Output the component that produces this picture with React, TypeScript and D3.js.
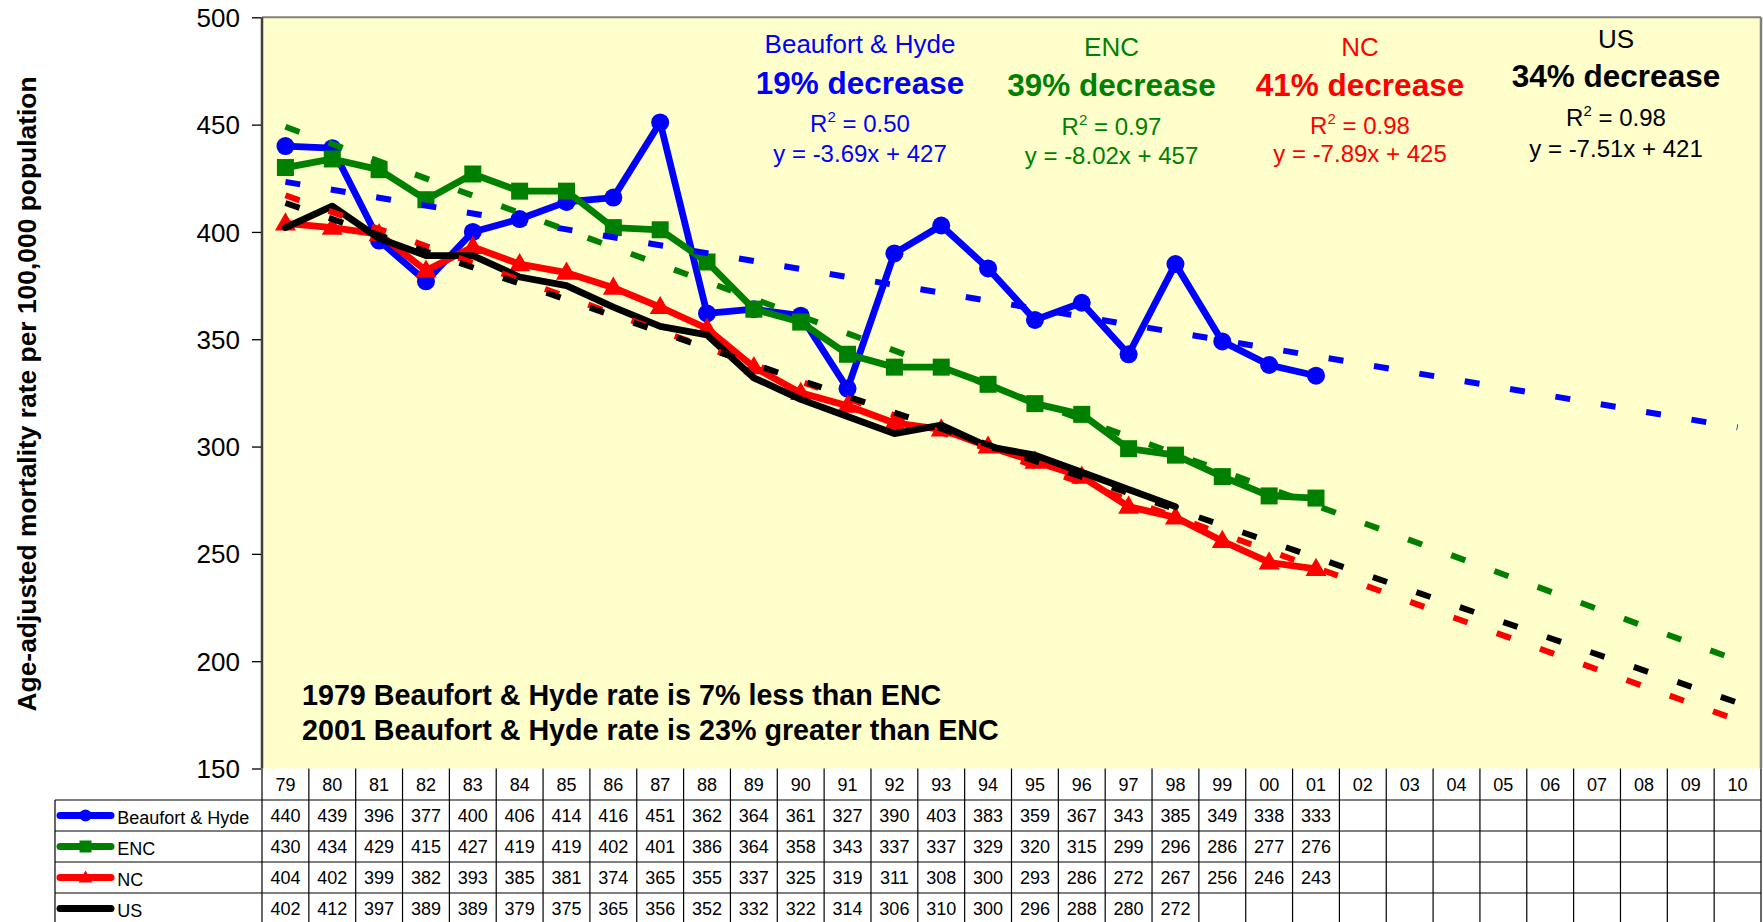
import React, { useRef, useEffect } from "react";
import * as d3 from "d3";

// years 1979..2010 (table header / x categories)
const years = [
  "79", "80", "81", "82", "83", "84", "85", "86", "87", "88", "89", "90", "91", "92", "93", "94",
  "95", "96", "97", "98", "99", "00", "01", "02", "03", "04", "05", "06", "07", "08", "09", "10",
];

const beaufortHyde = [440, 439, 396, 377, 400, 406, 414, 416, 451, 362, 364, 361, 327, 390, 403, 383, 359, 367, 343, 385, 349, 338, 333];
const enc = [430, 434, 429, 415, 427, 419, 419, 402, 401, 386, 364, 358, 343, 337, 337, 329, 320, 315, 299, 296, 286, 277, 276];
const nc = [404, 402, 399, 382, 393, 385, 381, 374, 365, 355, 337, 325, 319, 311, 308, 300, 293, 286, 272, 267, 256, 246, 243];
const us = [402, 412, 397, 389, 389, 379, 375, 365, 356, 352, 332, 322, 314, 306, 310, 300, 296, 288, 280, 272];

const seriesNames = ["Beaufort & Hyde", "ENC", "NC", "US"];
const seriesValues = [beaufortHyde, enc, nc, us];
const seriesColors = ["#0000ff", "#008000", "#ff0000", "#000000"];
const seriesMarkers = ["circle", "square", "triangle", "none"];

// linear trend lines as labelled on the chart (x = 1 for 1979)
const trendSlopes = [-3.69, -8.02, -7.89, -7.51];
const trendIntercepts = [427, 457, 425, 421];
const trendR2 = ["0.50", "0.97", "0.98", "0.98"];
const trendDecrease = ["19%", "39%", "41%", "34%"];

const yTicks = [150, 200, 250, 300, 350, 400, 450, 500];

const notes = [
  "1979 Beaufort & Hyde rate is 7% less than ENC",
  "2001 Beaufort & Hyde rate is 23% greater than ENC",
];

const FONT = "'Liberation Sans', Arial, Helvetica, sans-serif";
const W = 1763;
const H = 922;
const plotLeft = 262;
const plotRight = 1761;
const plotTop = 17.3;
const plotBottom = 768.5;
const tableLeft = 55;
const rowLines = [800, 831, 862, 893];

// annotation block layout: centre x and baselines of its 4 lines
const labelLayout = [
  { cx: 860, ys: [53.3, 94, 131.7, 161.7] },
  { cx: 1111.5, ys: [56, 95.5, 134.5, 163.5] },
  { cx: 1360, ys: [56, 96, 133.5, 162.3] },
  { cx: 1616, ys: [48.3, 86.7, 126, 156.7] },
];

const Marker: React.FC<{ kind: string; x: number; y: number; color: string; s: number }> = ({ kind, x, y, color, s }) => {
  if (kind === "circle") return <circle cx={x} cy={y} r={s / 2} fill={color} />;
  if (kind === "square") return <rect x={x - s / 2} y={y - s / 2} width={s} height={s} fill={color} />;
  if (kind === "triangle") {
    const p = d3.symbol().type(d3.symbolTriangle).size((Math.sqrt(3) / 4) * s * s)();
    return <path d={p as string} transform={`translate(${x},${y + 1})`} fill={color} />;
  }
  return null;
};

const App: React.FC = () => {
  const axisRef = useRef<SVGGElement | null>(null);

  const x = d3.scaleBand<string>().domain(years).range([plotLeft, plotRight]);
  const cx = (i: number) => (x(years[i]) as number) + x.bandwidth() / 2;
  const y = d3.scaleLinear().domain([150, 500]).range([plotBottom, plotTop]);

  useEffect(() => {
    const g = d3.select(axisRef.current);
    g.selectAll("*").remove();
    g.call(d3.axisLeft(y).tickValues(yTicks).tickSize(9).tickPadding(12).tickFormat(d3.format("d")) as any);
    g.select(".domain").remove();
    g.selectAll(".tick line").attr("stroke", "#000").attr("stroke-width", 1.3);
    g.selectAll(".tick text")
      .attr("font-family", FONT)
      .attr("font-size", 26)
      .attr("fill", "#000")
      .attr("dy", "0.35em");
  }, []);

  const line = d3
    .line<number>()
    .x((_, i) => cx(i))
    .y((d) => y(d));

  const colW = x.bandwidth();

  return (
    <svg width={W} height={H} style={{ position: "absolute", left: 0, top: 0, background: "#fff" }} fontFamily={FONT}>
      {/* plot area */}
      <rect x={plotLeft} y={plotTop} width={plotRight - plotLeft} height={plotBottom - plotTop} fill="#ffffcc" />
      <line x1={plotLeft} x2={plotRight} y1={plotTop} y2={plotTop} stroke="#808080" strokeWidth={2} />
      <line x1={plotRight} x2={plotRight} y1={plotTop} y2={plotBottom} stroke="#808080" strokeWidth={2.5} />

      {/* series */}
      {seriesValues.map((vals, si) => (
        <g key={seriesNames[si]}>
          <path d={line(vals) as string} fill="none" stroke={seriesColors[si]} strokeWidth={6.8} strokeLinejoin="round" strokeLinecap="round" />
          {vals.map((v, i) => (
            <Marker
              key={i}
              kind={seriesMarkers[si]}
              x={cx(i)}
              y={y(v)}
              color={seriesColors[si]}
              s={seriesMarkers[si] === "circle" ? 18 : seriesMarkers[si] === "square" ? 17 : 21}
            />
          ))}
        </g>
      ))}

      {/* trend lines */}
      {trendSlopes.map((m, si) => {
        const ends = [0, years.length - 1];
        const tl = d3
          .line<number>()
          .x((i) => cx(i))
          .y((i) => y(m * (i + 1) + trendIntercepts[si]));
        return (
          <path key={si} d={tl(ends) as string} fill="none" stroke={seriesColors[si]} strokeWidth={6} strokeDasharray="15 31" />
        );
      })}

      {/* y axis */}
      <line x1={plotLeft} x2={plotLeft} y1={plotTop} y2={plotBottom} stroke="#404040" strokeWidth={2.5} />
      <g ref={axisRef} transform={`translate(${plotLeft - 1},0)`} />

      <text transform={`translate(36,394) rotate(-90)`} textAnchor="middle" fontSize={26.4} fontWeight="bold" fill="#000">
        Age-adjusted mortality rate per 100,000 population
      </text>

      {/* trend annotations */}
      {seriesNames.map((name, si) => {
        const L = labelLayout[si];
        const c = seriesColors[si];
        return (
          <g key={name} fill={c} textAnchor="middle">
            <text x={L.cx} y={L.ys[0]} fontSize={26}>{name}</text>
            <text x={L.cx} y={L.ys[1]} fontSize={31.5} fontWeight="bold">{trendDecrease[si]} decrease</text>
            <text x={L.cx} y={L.ys[2]} fontSize={24}>
              R<tspan fontSize={15} dy={-10}>2</tspan>
              <tspan dy={10}> = {trendR2[si]}</tspan>
            </text>
            <text x={L.cx} y={L.ys[3]} fontSize={24}>
              y = {trendSlopes[si].toFixed(2)}x + {trendIntercepts[si]}
            </text>
          </g>
        );
      })}

      {/* notes */}
      {notes.map((n, i) => (
        <text key={i} x={302} y={705 + i * 34.5} fontSize={28.7} fontWeight="bold" fill="#000">
          {n}
        </text>
      ))}

      {/* data table */}
      <g stroke="#000" strokeWidth={1.2}>
        <line x1={plotLeft} x2={plotLeft} y1={plotBottom} y2={H} />
        {years.map((yr) => (
          <line key={yr} x1={(x(yr) as number) + colW} x2={(x(yr) as number) + colW} y1={plotBottom} y2={H} />
        ))}
        <line x1={tableLeft} x2={tableLeft} y1={rowLines[0]} y2={H} />
        {rowLines.map((ry) => (
          <line key={ry} x1={tableLeft} x2={plotRight} y1={ry} y2={ry} />
        ))}
      </g>
      <g fontSize={18} textAnchor="middle" fill="#000">
        {years.map((yr, i) => (
          <text key={yr} x={cx(i)} y={790.7}>{yr}</text>
        ))}
        {seriesValues.map((vals, si) =>
          vals.map((v, i) => (
            <text key={`${si}-${i}`} x={cx(i)} y={rowLines[si] + 22.3}>{v}</text>
          ))
        )}
      </g>
      {/* legend keys */}
      {seriesNames.map((name, si) => {
        const ry = rowLines[si] + 15.5;
        return (
          <g key={name}>
            <line x1={60} x2={111} y1={ry} y2={ry} stroke={seriesColors[si]} strokeWidth={7} strokeLinecap="round" />
            <Marker kind={seriesMarkers[si]} x={85.5} y={ry} color={seriesColors[si]} s={seriesMarkers[si] === "triangle" ? 14 : 12} />
            <text x={117.3} y={ry + 8.5} fontSize={18} fill="#000">{name}</text>
          </g>
        );
      })}
    </svg>
  );
};

export default App;
